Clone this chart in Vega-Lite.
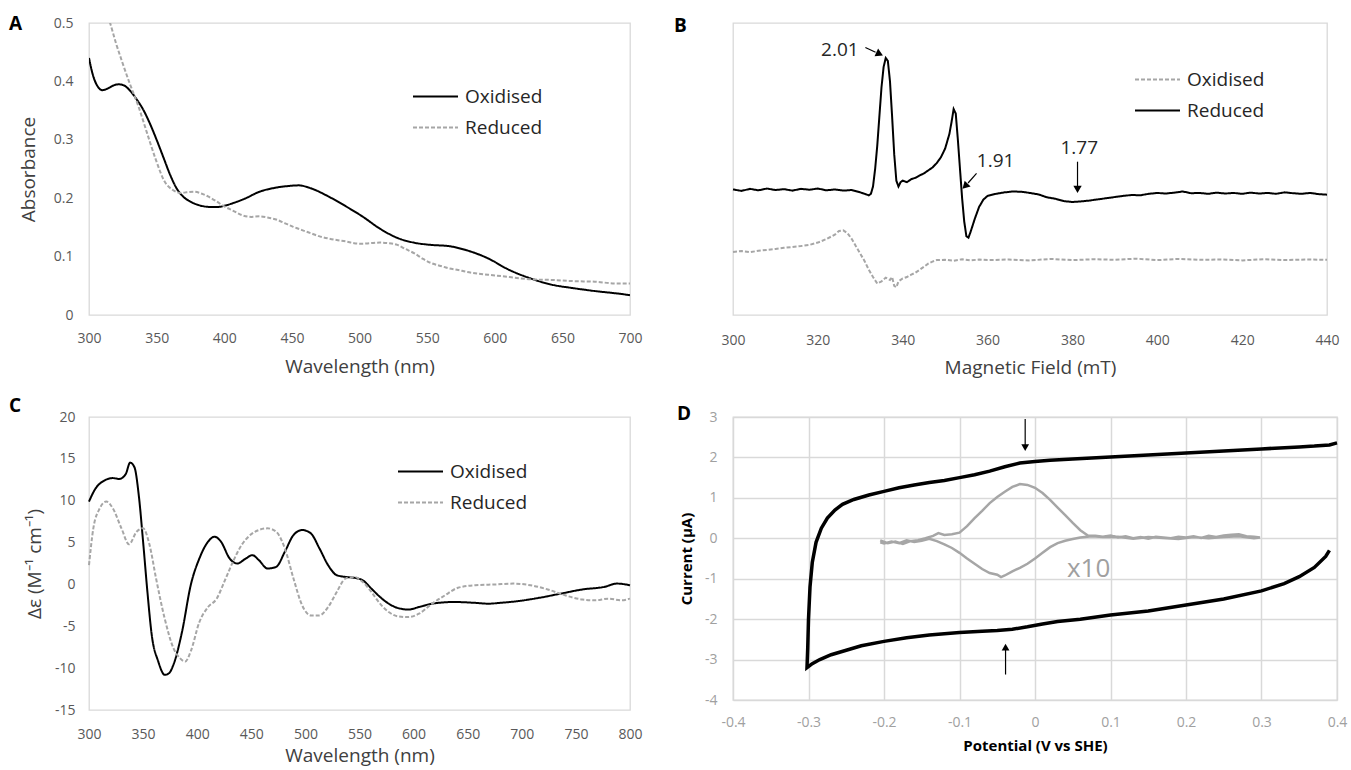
{
  "$schema": "https://vega.github.io/schema/vega-lite/v6.json",
  "padding": {"left": 8, "top": 14, "right": 0, "bottom": 0},
  "background": "white",
  "datasets": {
    "uv": [
      {"series":"Oxidised","wavelength":300,"absorbance":0.44},{"series":"Oxidised","wavelength":303,"absorbance":0.41},{"series":"Oxidised","wavelength":306,"absorbance":0.393},{"series":"Oxidised","wavelength":310,"absorbance":0.385},{"series":"Oxidised","wavelength":314,"absorbance":0.388},{"series":"Oxidised","wavelength":318,"absorbance":0.393},{"series":"Oxidised","wavelength":322,"absorbance":0.395},{"series":"Oxidised","wavelength":326,"absorbance":0.393},{"series":"Oxidised","wavelength":330,"absorbance":0.385},{"series":"Oxidised","wavelength":335,"absorbance":0.37},{"series":"Oxidised","wavelength":340,"absorbance":0.352},{"series":"Oxidised","wavelength":345,"absorbance":0.328},{"series":"Oxidised","wavelength":350,"absorbance":0.3},{"series":"Oxidised","wavelength":355,"absorbance":0.27},{"series":"Oxidised","wavelength":360,"absorbance":0.24},{"series":"Oxidised","wavelength":365,"absorbance":0.216},{"series":"Oxidised","wavelength":370,"absorbance":0.202},{"series":"Oxidised","wavelength":375,"absorbance":0.194},{"series":"Oxidised","wavelength":380,"absorbance":0.189},{"series":"Oxidised","wavelength":385,"absorbance":0.186},{"series":"Oxidised","wavelength":390,"absorbance":0.185},{"series":"Oxidised","wavelength":395,"absorbance":0.185},{"series":"Oxidised","wavelength":400,"absorbance":0.187},{"series":"Oxidised","wavelength":407,"absorbance":0.192},{"series":"Oxidised","wavelength":415,"absorbance":0.199},{"series":"Oxidised","wavelength":426,"absorbance":0.211},{"series":"Oxidised","wavelength":438,"absorbance":0.218},{"series":"Oxidised","wavelength":448,"absorbance":0.221},{"series":"Oxidised","wavelength":455,"absorbance":0.222},{"series":"Oxidised","wavelength":464,"absorbance":0.217},{"series":"Oxidised","wavelength":477,"absorbance":0.203},{"series":"Oxidised","wavelength":490,"absorbance":0.186},{"series":"Oxidised","wavelength":502,"absorbance":0.169},{"series":"Oxidised","wavelength":515,"absorbance":0.148},{"series":"Oxidised","wavelength":528,"absorbance":0.132},{"series":"Oxidised","wavelength":540,"absorbance":0.124},{"series":"Oxidised","wavelength":553,"absorbance":0.12},{"series":"Oxidised","wavelength":566,"absorbance":0.118},{"series":"Oxidised","wavelength":579,"absorbance":0.111},{"series":"Oxidised","wavelength":595,"absorbance":0.097},{"series":"Oxidised","wavelength":610,"absorbance":0.078},{"series":"Oxidised","wavelength":626,"absorbance":0.063},{"series":"Oxidised","wavelength":642,"absorbance":0.052},{"series":"Oxidised","wavelength":658,"absorbance":0.046},{"series":"Oxidised","wavelength":674,"absorbance":0.041},{"series":"Oxidised","wavelength":690,"absorbance":0.037},{"series":"Oxidised","wavelength":700,"absorbance":0.034},
      {"series":"Reduced","wavelength":300,"absorbance":0.62},{"series":"Reduced","wavelength":305,"absorbance":0.58},{"series":"Reduced","wavelength":310,"absorbance":0.54},{"series":"Reduced","wavelength":316,"absorbance":0.497},{"series":"Reduced","wavelength":320,"absorbance":0.465},{"series":"Reduced","wavelength":324,"absorbance":0.437},{"series":"Reduced","wavelength":330,"absorbance":0.397},{"series":"Reduced","wavelength":336.6,"absorbance":0.357},{"series":"Reduced","wavelength":343,"absorbance":0.311},{"series":"Reduced","wavelength":349.4,"absorbance":0.266},{"series":"Reduced","wavelength":355.8,"absorbance":0.229},{"series":"Reduced","wavelength":362,"absorbance":0.214},{"series":"Reduced","wavelength":368,"absorbance":0.209},{"series":"Reduced","wavelength":372,"absorbance":0.21},{"series":"Reduced","wavelength":378,"absorbance":0.211},{"series":"Reduced","wavelength":383,"absorbance":0.208},{"series":"Reduced","wavelength":388,"absorbance":0.203},{"series":"Reduced","wavelength":394,"absorbance":0.195},{"series":"Reduced","wavelength":400,"absorbance":0.186},{"series":"Reduced","wavelength":407,"absorbance":0.178},{"series":"Reduced","wavelength":413,"absorbance":0.171},{"series":"Reduced","wavelength":420,"absorbance":0.168},{"series":"Reduced","wavelength":426,"absorbance":0.169},{"series":"Reduced","wavelength":432,"absorbance":0.167},{"series":"Reduced","wavelength":439,"absorbance":0.163},{"series":"Reduced","wavelength":445,"absorbance":0.157},{"series":"Reduced","wavelength":451,"absorbance":0.151},{"series":"Reduced","wavelength":458,"absorbance":0.145},{"series":"Reduced","wavelength":464,"absorbance":0.14},{"series":"Reduced","wavelength":470,"absorbance":0.135},{"series":"Reduced","wavelength":477,"absorbance":0.131},{"series":"Reduced","wavelength":484,"absorbance":0.128},{"series":"Reduced","wavelength":490,"absorbance":0.126},{"series":"Reduced","wavelength":496,"absorbance":0.123},{"series":"Reduced","wavelength":502,"absorbance":0.122},{"series":"Reduced","wavelength":508,"absorbance":0.123},{"series":"Reduced","wavelength":515,"absorbance":0.124},{"series":"Reduced","wavelength":521,"absorbance":0.123},{"series":"Reduced","wavelength":528,"absorbance":0.12},{"series":"Reduced","wavelength":534,"absorbance":0.113},{"series":"Reduced","wavelength":541,"absorbance":0.105},{"series":"Reduced","wavelength":547,"absorbance":0.096},{"series":"Reduced","wavelength":553,"absorbance":0.089},{"series":"Reduced","wavelength":560,"absorbance":0.084},{"series":"Reduced","wavelength":566,"absorbance":0.08},{"series":"Reduced","wavelength":573,"absorbance":0.077},{"series":"Reduced","wavelength":579,"absorbance":0.074},{"series":"Reduced","wavelength":587,"absorbance":0.071},{"series":"Reduced","wavelength":595,"absorbance":0.069},{"series":"Reduced","wavelength":611,"absorbance":0.065},{"series":"Reduced","wavelength":627,"absorbance":0.061},{"series":"Reduced","wavelength":643,"absorbance":0.06},{"series":"Reduced","wavelength":658,"absorbance":0.058},{"series":"Reduced","wavelength":674,"absorbance":0.057},{"series":"Reduced","wavelength":690,"absorbance":0.054},{"series":"Reduced","wavelength":700,"absorbance":0.054}
    ],
    "epr": [
      {"series":"Reduced","field_mT":300,"signal":43.0},{"series":"Reduced","field_mT":302,"signal":42.5},{"series":"Reduced","field_mT":304,"signal":43.2},{"series":"Reduced","field_mT":306,"signal":42.7},{"series":"Reduced","field_mT":308,"signal":43.3},{"series":"Reduced","field_mT":310,"signal":42.8},{"series":"Reduced","field_mT":312,"signal":43.1},{"series":"Reduced","field_mT":314,"signal":42.6},{"series":"Reduced","field_mT":316,"signal":43.2},{"series":"Reduced","field_mT":318,"signal":42.9},{"series":"Reduced","field_mT":320,"signal":43.3},{"series":"Reduced","field_mT":322,"signal":42.7},{"series":"Reduced","field_mT":324,"signal":43.0},{"series":"Reduced","field_mT":326,"signal":42.6},{"series":"Reduced","field_mT":328,"signal":42.8},{"series":"Reduced","field_mT":330,"signal":42.0},{"series":"Reduced","field_mT":331,"signal":41.5},{"series":"Reduced","field_mT":332,"signal":41.0},{"series":"Reduced","field_mT":332.5,"signal":41.5},{"series":"Reduced","field_mT":333,"signal":44},{"series":"Reduced","field_mT":333.5,"signal":50},{"series":"Reduced","field_mT":334,"signal":58},{"series":"Reduced","field_mT":334.5,"signal":68},{"series":"Reduced","field_mT":335,"signal":78},{"series":"Reduced","field_mT":335.5,"signal":85},{"series":"Reduced","field_mT":336,"signal":88},{"series":"Reduced","field_mT":336.5,"signal":87},{"series":"Reduced","field_mT":337,"signal":80},{"series":"Reduced","field_mT":337.5,"signal":68},{"series":"Reduced","field_mT":338,"signal":55},{"series":"Reduced","field_mT":338.5,"signal":46},{"series":"Reduced","field_mT":339,"signal":44},{"series":"Reduced","field_mT":339.5,"signal":45.5},{"series":"Reduced","field_mT":340,"signal":46},{"series":"Reduced","field_mT":341,"signal":45.5},{"series":"Reduced","field_mT":342,"signal":46.5},{"series":"Reduced","field_mT":343,"signal":47},{"series":"Reduced","field_mT":344,"signal":47.8},{"series":"Reduced","field_mT":345,"signal":48.5},{"series":"Reduced","field_mT":346,"signal":49.5},{"series":"Reduced","field_mT":347,"signal":50.5},{"series":"Reduced","field_mT":348,"signal":52},{"series":"Reduced","field_mT":349,"signal":54},{"series":"Reduced","field_mT":350,"signal":57},{"series":"Reduced","field_mT":351,"signal":62},{"series":"Reduced","field_mT":351.5,"signal":66},{"series":"Reduced","field_mT":352,"signal":70.5},{"series":"Reduced","field_mT":352.5,"signal":69},{"series":"Reduced","field_mT":353,"signal":60},{"series":"Reduced","field_mT":353.5,"signal":50},{"series":"Reduced","field_mT":354,"signal":40},{"series":"Reduced","field_mT":354.5,"signal":32},{"series":"Reduced","field_mT":355,"signal":27},{"series":"Reduced","field_mT":355.5,"signal":26.5},{"series":"Reduced","field_mT":356,"signal":28.5},{"series":"Reduced","field_mT":357,"signal":33},{"series":"Reduced","field_mT":358,"signal":37},{"series":"Reduced","field_mT":359,"signal":39.5},{"series":"Reduced","field_mT":360,"signal":40.8},{"series":"Reduced","field_mT":362,"signal":41.5},{"series":"Reduced","field_mT":364,"signal":42},{"series":"Reduced","field_mT":366,"signal":42.3},{"series":"Reduced","field_mT":368,"signal":42.2},{"series":"Reduced","field_mT":370,"signal":41.8},{"series":"Reduced","field_mT":372,"signal":41.3},{"series":"Reduced","field_mT":374,"signal":40.3},{"series":"Reduced","field_mT":376,"signal":39.8},{"series":"Reduced","field_mT":378,"signal":39.0},{"series":"Reduced","field_mT":380,"signal":38.7},{"series":"Reduced","field_mT":382,"signal":38.9},{"series":"Reduced","field_mT":384,"signal":39.2},{"series":"Reduced","field_mT":386,"signal":39.6},{"series":"Reduced","field_mT":388,"signal":40.0},{"series":"Reduced","field_mT":390,"signal":40.4},{"series":"Reduced","field_mT":392,"signal":40.8},{"series":"Reduced","field_mT":394,"signal":41.1},{"series":"Reduced","field_mT":396,"signal":41.0},{"series":"Reduced","field_mT":398,"signal":41.5},{"series":"Reduced","field_mT":400,"signal":41.8},{"series":"Reduced","field_mT":402,"signal":41.6},{"series":"Reduced","field_mT":404,"signal":41.9},{"series":"Reduced","field_mT":406,"signal":42.3},{"series":"Reduced","field_mT":408,"signal":41.7},{"series":"Reduced","field_mT":410,"signal":41.8},{"series":"Reduced","field_mT":412,"signal":41.5},{"series":"Reduced","field_mT":414,"signal":41.9},{"series":"Reduced","field_mT":416,"signal":41.6},{"series":"Reduced","field_mT":418,"signal":41.8},{"series":"Reduced","field_mT":420,"signal":41.5},{"series":"Reduced","field_mT":422,"signal":41.9},{"series":"Reduced","field_mT":424,"signal":41.6},{"series":"Reduced","field_mT":426,"signal":41.8},{"series":"Reduced","field_mT":428,"signal":41.5},{"series":"Reduced","field_mT":430,"signal":42.0},{"series":"Reduced","field_mT":432,"signal":41.7},{"series":"Reduced","field_mT":434,"signal":41.5},{"series":"Reduced","field_mT":436,"signal":41.8},{"series":"Reduced","field_mT":438,"signal":41.4},{"series":"Reduced","field_mT":440,"signal":41.2},
      {"series":"Oxidised","field_mT":300,"signal":21.6},{"series":"Oxidised","field_mT":302,"signal":21.9},{"series":"Oxidised","field_mT":304,"signal":21.5},{"series":"Oxidised","field_mT":306,"signal":22.0},{"series":"Oxidised","field_mT":308,"signal":22.3},{"series":"Oxidised","field_mT":310,"signal":22.6},{"series":"Oxidised","field_mT":312,"signal":23.0},{"series":"Oxidised","field_mT":314,"signal":23.3},{"series":"Oxidised","field_mT":316,"signal":23.6},{"series":"Oxidised","field_mT":318,"signal":24.0},{"series":"Oxidised","field_mT":320,"signal":24.8},{"series":"Oxidised","field_mT":322,"signal":26.0},{"series":"Oxidised","field_mT":324,"signal":27.5},{"series":"Oxidised","field_mT":325,"signal":28.8},{"series":"Oxidised","field_mT":326,"signal":29.0},{"series":"Oxidised","field_mT":327,"signal":28.0},{"series":"Oxidised","field_mT":328,"signal":26.0},{"series":"Oxidised","field_mT":329,"signal":23.5},{"series":"Oxidised","field_mT":330,"signal":21.0},{"series":"Oxidised","field_mT":331,"signal":18.5},{"series":"Oxidised","field_mT":332,"signal":15.5},{"series":"Oxidised","field_mT":333,"signal":13.0},{"series":"Oxidised","field_mT":334,"signal":10.8},{"series":"Oxidised","field_mT":335,"signal":11.5},{"series":"Oxidised","field_mT":336,"signal":12.8},{"series":"Oxidised","field_mT":337,"signal":12.0},{"series":"Oxidised","field_mT":337.5,"signal":13.0},{"series":"Oxidised","field_mT":338,"signal":10.0},{"series":"Oxidised","field_mT":338.5,"signal":9.5},{"series":"Oxidised","field_mT":339,"signal":11.5},{"series":"Oxidised","field_mT":340,"signal":12.5},{"series":"Oxidised","field_mT":341,"signal":13.0},{"series":"Oxidised","field_mT":342,"signal":13.8},{"series":"Oxidised","field_mT":343,"signal":14.5},{"series":"Oxidised","field_mT":344,"signal":15.5},{"series":"Oxidised","field_mT":345,"signal":16.5},{"series":"Oxidised","field_mT":346,"signal":17.6},{"series":"Oxidised","field_mT":347,"signal":18.3},{"series":"Oxidised","field_mT":348,"signal":18.8},{"series":"Oxidised","field_mT":350,"signal":18.9},{"series":"Oxidised","field_mT":352,"signal":18.6},{"series":"Oxidised","field_mT":354,"signal":19.1},{"series":"Oxidised","field_mT":356,"signal":18.7},{"series":"Oxidised","field_mT":358,"signal":19.0},{"series":"Oxidised","field_mT":360,"signal":18.8},{"series":"Oxidised","field_mT":365,"signal":19.0},{"series":"Oxidised","field_mT":370,"signal":18.7},{"series":"Oxidised","field_mT":375,"signal":19.2},{"series":"Oxidised","field_mT":380,"signal":18.8},{"series":"Oxidised","field_mT":385,"signal":19.1},{"series":"Oxidised","field_mT":390,"signal":18.9},{"series":"Oxidised","field_mT":395,"signal":19.3},{"series":"Oxidised","field_mT":400,"signal":18.8},{"series":"Oxidised","field_mT":405,"signal":19.2},{"series":"Oxidised","field_mT":410,"signal":18.9},{"series":"Oxidised","field_mT":415,"signal":19.0},{"series":"Oxidised","field_mT":420,"signal":18.7},{"series":"Oxidised","field_mT":425,"signal":19.1},{"series":"Oxidised","field_mT":430,"signal":18.8},{"series":"Oxidised","field_mT":435,"signal":19.0},{"series":"Oxidised","field_mT":440,"signal":18.9}
    ],
    "epr_labels": [
      {"label":"2.01","field_mT":325.2,"signal":90.9},
      {"label":"1.91","field_mT":361.9,"signal":52.6},
      {"label":"1.77","field_mT":381.6,"signal":57.3}
    ],
    "epr_arrows": [
      {"field_mT":331.2,"signal":91.6,"field_mT2":333.6,"signal2":90.0},
      {"field_mT":357.4,"signal":48.5,"field_mT2":355.4,"signal2":45.2},
      {"field_mT":381.2,"signal":52.5,"field_mT2":381.2,"signal2":44.0}
    ],
    "epr_heads": [
      {"field_mT":334.3,"signal":89.6,"angle":115},
      {"field_mT":354.9,"signal":44.4,"angle":225},
      {"field_mT":381.2,"signal":43.4,"angle":180}
    ],
    "cd": [
      {"series":"Oxidised","wavelength":300,"delta_eps":9.9},{"series":"Oxidised","wavelength":306,"delta_eps":11.45},{"series":"Oxidised","wavelength":314,"delta_eps":12.4},{"series":"Oxidised","wavelength":322,"delta_eps":12.7},{"series":"Oxidised","wavelength":328,"delta_eps":12.6},{"series":"Oxidised","wavelength":334,"delta_eps":13.2},{"series":"Oxidised","wavelength":338,"delta_eps":14.55},{"series":"Oxidised","wavelength":342,"delta_eps":14.0},{"series":"Oxidised","wavelength":346,"delta_eps":10.65},{"series":"Oxidised","wavelength":350,"delta_eps":5.1},{"series":"Oxidised","wavelength":354,"delta_eps":-0.9},{"series":"Oxidised","wavelength":358,"delta_eps":-6.05},{"series":"Oxidised","wavelength":364,"delta_eps":-9.2},{"series":"Oxidised","wavelength":370,"delta_eps":-10.8},{"series":"Oxidised","wavelength":374,"delta_eps":-10.6},{"series":"Oxidised","wavelength":378,"delta_eps":-9.6},{"series":"Oxidised","wavelength":386,"delta_eps":-5.65},{"series":"Oxidised","wavelength":394,"delta_eps":-0.1},{"series":"Oxidised","wavelength":402,"delta_eps":3.1},{"series":"Oxidised","wavelength":410,"delta_eps":5.1},{"series":"Oxidised","wavelength":416,"delta_eps":5.7},{"series":"Oxidised","wavelength":422,"delta_eps":5.1},{"series":"Oxidised","wavelength":430,"delta_eps":3.1},{"series":"Oxidised","wavelength":437,"delta_eps":2.5},{"series":"Oxidised","wavelength":445,"delta_eps":3.1},{"series":"Oxidised","wavelength":451,"delta_eps":3.5},{"series":"Oxidised","wavelength":457,"delta_eps":2.9},{"series":"Oxidised","wavelength":465,"delta_eps":1.9},{"series":"Oxidised","wavelength":473,"delta_eps":2.1},{"series":"Oxidised","wavelength":481,"delta_eps":3.9},{"series":"Oxidised","wavelength":489,"delta_eps":5.9},{"series":"Oxidised","wavelength":497,"delta_eps":6.5},{"series":"Oxidised","wavelength":505,"delta_eps":6.1},{"series":"Oxidised","wavelength":513,"delta_eps":4.3},{"series":"Oxidised","wavelength":521,"delta_eps":2.3},{"series":"Oxidised","wavelength":529,"delta_eps":1.1},{"series":"Oxidised","wavelength":537,"delta_eps":0.9},{"series":"Oxidised","wavelength":545,"delta_eps":0.8},{"series":"Oxidised","wavelength":553,"delta_eps":0.5},{"series":"Oxidised","wavelength":561,"delta_eps":-0.5},{"series":"Oxidised","wavelength":569,"delta_eps":-1.5},{"series":"Oxidised","wavelength":577,"delta_eps":-2.3},{"series":"Oxidised","wavelength":585,"delta_eps":-2.8},{"series":"Oxidised","wavelength":595,"delta_eps":-3.0},{"series":"Oxidised","wavelength":605,"delta_eps":-2.7},{"series":"Oxidised","wavelength":617,"delta_eps":-2.3},{"series":"Oxidised","wavelength":637,"delta_eps":-2.1},{"series":"Oxidised","wavelength":657,"delta_eps":-2.2},{"series":"Oxidised","wavelength":669,"delta_eps":-2.3},{"series":"Oxidised","wavelength":680,"delta_eps":-2.2},{"series":"Oxidised","wavelength":696,"delta_eps":-2.0},{"series":"Oxidised","wavelength":716,"delta_eps":-1.6},{"series":"Oxidised","wavelength":736,"delta_eps":-1.1},{"series":"Oxidised","wavelength":756,"delta_eps":-0.6},{"series":"Oxidised","wavelength":776,"delta_eps":-0.3},{"series":"Oxidised","wavelength":788,"delta_eps":0.1},{"series":"Oxidised","wavelength":800,"delta_eps":-0.1},
      {"series":"Reduced","wavelength":300,"delta_eps":2.3},{"series":"Reduced","wavelength":304,"delta_eps":6.7},{"series":"Reduced","wavelength":310,"delta_eps":9.1},{"series":"Reduced","wavelength":316,"delta_eps":9.9},{"series":"Reduced","wavelength":322,"delta_eps":9.1},{"series":"Reduced","wavelength":330,"delta_eps":6.7},{"series":"Reduced","wavelength":337,"delta_eps":4.8},{"series":"Reduced","wavelength":344,"delta_eps":6.3},{"series":"Reduced","wavelength":350,"delta_eps":6.7},{"series":"Reduced","wavelength":356,"delta_eps":4.7},{"series":"Reduced","wavelength":362,"delta_eps":0.7},{"series":"Reduced","wavelength":370,"delta_eps":-4.1},{"series":"Reduced","wavelength":378,"delta_eps":-7.6},{"series":"Reduced","wavelength":384,"delta_eps":-8.8},{"series":"Reduced","wavelength":389,"delta_eps":-9.2},{"series":"Reduced","wavelength":394,"delta_eps":-8.0},{"series":"Reduced","wavelength":402,"delta_eps":-4.5},{"series":"Reduced","wavelength":410,"delta_eps":-2.7},{"series":"Reduced","wavelength":418,"delta_eps":-1.7},{"series":"Reduced","wavelength":425,"delta_eps":0.3},{"series":"Reduced","wavelength":433,"delta_eps":2.7},{"series":"Reduced","wavelength":441,"delta_eps":4.7},{"series":"Reduced","wavelength":449,"delta_eps":5.9},{"series":"Reduced","wavelength":457,"delta_eps":6.5},{"series":"Reduced","wavelength":465,"delta_eps":6.7},{"series":"Reduced","wavelength":473,"delta_eps":6.3},{"series":"Reduced","wavelength":481,"delta_eps":4.3},{"series":"Reduced","wavelength":489,"delta_eps":0.7},{"series":"Reduced","wavelength":497,"delta_eps":-2.5},{"series":"Reduced","wavelength":505,"delta_eps":-3.7},{"series":"Reduced","wavelength":513,"delta_eps":-3.7},{"series":"Reduced","wavelength":521,"delta_eps":-2.7},{"series":"Reduced","wavelength":529,"delta_eps":-0.9},{"series":"Reduced","wavelength":537,"delta_eps":0.7},{"series":"Reduced","wavelength":545,"delta_eps":0.9},{"series":"Reduced","wavelength":553,"delta_eps":0.3},{"series":"Reduced","wavelength":561,"delta_eps":-0.9},{"series":"Reduced","wavelength":569,"delta_eps":-2.3},{"series":"Reduced","wavelength":577,"delta_eps":-3.3},{"series":"Reduced","wavelength":585,"delta_eps":-3.8},{"series":"Reduced","wavelength":595,"delta_eps":-3.9},{"series":"Reduced","wavelength":605,"delta_eps":-3.5},{"series":"Reduced","wavelength":617,"delta_eps":-2.3},{"series":"Reduced","wavelength":629,"delta_eps":-1.3},{"series":"Reduced","wavelength":641,"delta_eps":-0.4},{"series":"Reduced","wavelength":657,"delta_eps":-0.1},{"series":"Reduced","wavelength":676,"delta_eps":0.0},{"series":"Reduced","wavelength":692,"delta_eps":0.1},{"series":"Reduced","wavelength":708,"delta_eps":-0.1},{"series":"Reduced","wavelength":724,"delta_eps":-0.6},{"series":"Reduced","wavelength":740,"delta_eps":-1.3},{"series":"Reduced","wavelength":756,"delta_eps":-1.8},{"series":"Reduced","wavelength":768,"delta_eps":-1.9},{"series":"Reduced","wavelength":780,"delta_eps":-1.7},{"series":"Reduced","wavelength":792,"delta_eps":-1.9},{"series":"Reduced","wavelength":800,"delta_eps":-1.7}
    ],
    "cv_black": [
      {"step":1,"potential":0.4,"current":2.36},{"step":2,"potential":0.39,"current":2.31},{"step":3,"potential":0.37,"current":2.28},{"step":4,"potential":0.35,"current":2.26},{"step":5,"potential":0.3,"current":2.21},{"step":6,"potential":0.25,"current":2.16},{"step":7,"potential":0.2,"current":2.11},{"step":8,"potential":0.15,"current":2.06},{"step":9,"potential":0.1,"current":2.01},{"step":10,"potential":0.05,"current":1.96},{"step":11,"potential":0.02,"current":1.93},{"step":12,"potential":0.0,"current":1.9},{"step":13,"potential":-0.02,"current":1.86},{"step":14,"potential":-0.04,"current":1.77},{"step":15,"potential":-0.06,"current":1.66},{"step":16,"potential":-0.08,"current":1.57},{"step":17,"potential":-0.1,"current":1.5},{"step":18,"potential":-0.12,"current":1.43},{"step":19,"potential":-0.14,"current":1.38},{"step":20,"potential":-0.16,"current":1.32},{"step":21,"potential":-0.18,"current":1.25},{"step":22,"potential":-0.2,"current":1.16},{"step":23,"potential":-0.22,"current":1.07},{"step":24,"potential":-0.24,"current":0.96},{"step":25,"potential":-0.255,"current":0.84},{"step":26,"potential":-0.265,"current":0.7},{"step":27,"potential":-0.275,"current":0.5},{"step":28,"potential":-0.283,"current":0.25},{"step":29,"potential":-0.29,"current":-0.1},{"step":30,"potential":-0.295,"current":-0.6},{"step":31,"potential":-0.298,"current":-1.2},{"step":32,"potential":-0.3,"current":-2.0},{"step":33,"potential":-0.301,"current":-2.7},{"step":34,"potential":-0.302,"current":-3.2},{"step":35,"potential":-0.295,"current":-3.1},{"step":36,"potential":-0.285,"current":-3.0},{"step":37,"potential":-0.27,"current":-2.88},{"step":38,"potential":-0.25,"current":-2.77},{"step":39,"potential":-0.23,"current":-2.66},{"step":40,"potential":-0.2,"current":-2.55},{"step":41,"potential":-0.17,"current":-2.46},{"step":42,"potential":-0.14,"current":-2.39},{"step":43,"potential":-0.1,"current":-2.33},{"step":44,"potential":-0.07,"current":-2.3},{"step":45,"potential":-0.05,"current":-2.28},{"step":46,"potential":-0.03,"current":-2.25},{"step":47,"potential":-0.01,"current":-2.19},{"step":48,"potential":0.01,"current":-2.12},{"step":49,"potential":0.03,"current":-2.06},{"step":50,"potential":0.06,"current":-2.0},{"step":51,"potential":0.1,"current":-1.9},{"step":52,"potential":0.15,"current":-1.8},{"step":53,"potential":0.2,"current":-1.65},{"step":54,"potential":0.25,"current":-1.5},{"step":55,"potential":0.3,"current":-1.3},{"step":56,"potential":0.33,"current":-1.12},{"step":57,"potential":0.35,"current":-0.95},{"step":58,"potential":0.37,"current":-0.72},{"step":59,"potential":0.385,"current":-0.45},{"step":60,"potential":0.39,"current":-0.3}
    ],
    "cv_gray": [
      {"step":1,"potential":-0.205,"current":-0.05},{"step":2,"potential":-0.195,"current":-0.12},{"step":3,"potential":-0.185,"current":-0.08},{"step":4,"potential":-0.175,"current":-0.14},{"step":5,"potential":-0.165,"current":-0.07},{"step":6,"potential":-0.155,"current":-0.05},{"step":7,"potential":-0.145,"current":0.0},{"step":8,"potential":-0.135,"current":0.06},{"step":9,"potential":-0.128,"current":0.13},{"step":10,"potential":-0.12,"current":0.08},{"step":11,"potential":-0.11,"current":0.1},{"step":12,"potential":-0.1,"current":0.14},{"step":13,"potential":-0.09,"current":0.3},{"step":14,"potential":-0.08,"current":0.5},{"step":15,"potential":-0.07,"current":0.68},{"step":16,"potential":-0.06,"current":0.87},{"step":17,"potential":-0.05,"current":1.02},{"step":18,"potential":-0.04,"current":1.15},{"step":19,"potential":-0.03,"current":1.27},{"step":20,"potential":-0.02,"current":1.34},{"step":21,"potential":-0.01,"current":1.32},{"step":22,"potential":0.0,"current":1.25},{"step":23,"potential":0.01,"current":1.12},{"step":24,"potential":0.02,"current":0.95},{"step":25,"potential":0.03,"current":0.76},{"step":26,"potential":0.04,"current":0.57},{"step":27,"potential":0.05,"current":0.38},{"step":28,"potential":0.06,"current":0.2},{"step":29,"potential":0.07,"current":0.07},{"step":30,"potential":0.08,"current":0.06},{"step":31,"potential":0.09,"current":0.04},{"step":32,"potential":0.1,"current":0.07},{"step":33,"potential":0.11,"current":0.02},{"step":34,"potential":0.12,"current":0.05},{"step":35,"potential":0.13,"current":0.0},{"step":36,"potential":0.14,"current":0.03},{"step":37,"potential":0.15,"current":-0.01},{"step":38,"potential":0.16,"current":0.04},{"step":39,"potential":0.17,"current":0.02},{"step":40,"potential":0.18,"current":0.0},{"step":41,"potential":0.19,"current":0.04},{"step":42,"potential":0.2,"current":0.02},{"step":43,"potential":0.21,"current":0.05},{"step":44,"potential":0.22,"current":0.01},{"step":45,"potential":0.23,"current":0.06},{"step":46,"potential":0.24,"current":0.03},{"step":47,"potential":0.25,"current":0.07},{"step":48,"potential":0.26,"current":0.09},{"step":49,"potential":0.27,"current":0.1},{"step":50,"potential":0.28,"current":0.05},{"step":51,"potential":0.29,"current":0.04},{"step":52,"potential":0.298,"current":0.02},{"step":53,"potential":0.29,"current":0.0},{"step":54,"potential":0.27,"current":0.05},{"step":55,"potential":0.25,"current":0.03},{"step":56,"potential":0.23,"current":0.0},{"step":57,"potential":0.21,"current":0.03},{"step":58,"potential":0.19,"current":-0.02},{"step":59,"potential":0.17,"current":0.01},{"step":60,"potential":0.15,"current":0.03},{"step":61,"potential":0.13,"current":-0.01},{"step":62,"potential":0.11,"current":0.04},{"step":63,"potential":0.09,"current":0.03},{"step":64,"potential":0.075,"current":0.05},{"step":65,"potential":0.06,"current":0.02},{"step":66,"potential":0.05,"current":-0.02},{"step":67,"potential":0.04,"current":-0.06},{"step":68,"potential":0.03,"current":-0.12},{"step":69,"potential":0.02,"current":-0.22},{"step":70,"potential":0.01,"current":-0.36},{"step":71,"potential":0.0,"current":-0.5},{"step":72,"potential":-0.01,"current":-0.63},{"step":73,"potential":-0.02,"current":-0.73},{"step":74,"potential":-0.03,"current":-0.82},{"step":75,"potential":-0.04,"current":-0.92},{"step":76,"potential":-0.045,"current":-0.96},{"step":77,"potential":-0.05,"current":-0.9},{"step":78,"potential":-0.06,"current":-0.86},{"step":79,"potential":-0.07,"current":-0.76},{"step":80,"potential":-0.08,"current":-0.63},{"step":81,"potential":-0.09,"current":-0.5},{"step":82,"potential":-0.1,"current":-0.36},{"step":83,"potential":-0.11,"current":-0.24},{"step":84,"potential":-0.12,"current":-0.15},{"step":85,"potential":-0.13,"current":-0.07},{"step":86,"potential":-0.14,"current":-0.01},{"step":87,"potential":-0.15,"current":-0.06},{"step":88,"potential":-0.16,"current":-0.09},{"step":89,"potential":-0.17,"current":-0.05},{"step":90,"potential":-0.18,"current":-0.12},{"step":91,"potential":-0.19,"current":-0.08},{"step":92,"potential":-0.2,"current":-0.13},{"step":93,"potential":-0.205,"current":-0.1}
    ],
    "cv_arrows": [
      {"potential":-0.013,"current":2.95,"current2":2.3},
      {"potential":-0.039,"current":-3.37,"current2":-2.72}
    ],
    "cv_heads": [
      {"potential":-0.013,"current":2.27,"angle":180},
      {"potential":-0.039,"current":-2.72,"angle":0}
    ],
    "cv_label": [
      {"potential":0.071,"current":-0.75,"label":"x10"}
    ]
  },
  "columns": 2,
  "spacing": {"row": 102, "column": 103},
  "bounds": "flush",
  "resolve": {"scale": {"color": "independent", "strokeDash": "independent"}, "legend": {"color": "independent", "strokeDash": "independent"}},
  "concat": [
    {
      "width": 541, "height": 292,
      "title": {"text": "A", "dx": -80, "dy": 22},
      "data": {"name": "uv"},
      "mark": {"type": "line", "strokeWidth": 2, "clip": true, "interpolate": "monotone"},
      "encoding": {
        "x": {"field": "wavelength", "type": "quantitative", "scale": {"domain": [300, 700], "nice": false, "zero": false}, "axis": {"values": [300,350,400,450,500,550,600,650,700], "title": "Wavelength (nm)", "labelPadding": 16, "titlePadding": 12}},
        "y": {"field": "absorbance", "type": "quantitative", "scale": {"domain": [0, 0.5], "nice": false}, "axis": {"values": [0,0.1,0.2,0.3,0.4,0.5], "labelExpr": "toString(datum.value)", "title": "Absorbance", "labelPadding": 16, "titlePadding": 15}},
        "color": {"field": "series", "type": "nominal", "scale": {"domain": ["Oxidised","Reduced"], "range": ["#000000","#a6a6a6"]}, "legend": {"title": null, "orient": "none", "legendX": 324, "legendY": 64}},
        "strokeDash": {"field": "series", "type": "nominal", "scale": {"domain": ["Oxidised","Reduced"], "range": [[1,0],[4,2]]}, "legend": {"title": null, "orient": "none", "legendX": 324, "legendY": 64}}
      }
    },
    {
      "width": 594, "height": 292,
      "title": {"text": "B", "dx": -59, "dy": 17},
      "layer": [
        {
          "data": {"name": "epr"},
          "mark": {"type": "line", "strokeWidth": 2},
          "encoding": {
            "x": {"field": "field_mT", "type": "quantitative", "scale": {"domain": [300, 440], "nice": false, "zero": false}, "axis": {"values": [300,320,340,360,380,400,420,440], "title": "Magnetic Field (mT)", "labelPadding": 18, "titlePadding": 11}},
            "y": {"field": "signal", "type": "quantitative", "scale": {"domain": [0, 100], "nice": false}, "axis": null},
            "color": {"field": "series", "type": "nominal", "scale": {"domain": ["Oxidised","Reduced"], "range": ["#a6a6a6","#000000"]}, "legend": {"title": null, "orient": "none", "legendX": 402, "legendY": 47}},
            "strokeDash": {"field": "series", "type": "nominal", "scale": {"domain": ["Oxidised","Reduced"], "range": [[4,2],[1,0]]}, "legend": {"title": null, "orient": "none", "legendX": 402, "legendY": 47}}
          }
        },
        {
          "data": {"name": "epr_arrows"},
          "mark": {"type": "rule", "color": "#000000", "strokeWidth": 1.2},
          "encoding": {
            "x": {"field": "field_mT", "type": "quantitative"},
            "y": {"field": "signal", "type": "quantitative"},
            "x2": {"field": "field_mT2"},
            "y2": {"field": "signal2"}
          }
        },
        {
          "data": {"name": "epr_heads"},
          "mark": {"type": "point", "shape": "triangle", "filled": true, "color": "#000000", "size": 70, "opacity": 1},
          "encoding": {
            "x": {"field": "field_mT", "type": "quantitative"},
            "y": {"field": "signal", "type": "quantitative"},
            "angle": {"field": "angle", "type": "quantitative", "scale": null}
          }
        },
        {
          "data": {"name": "epr_labels"},
          "mark": {"type": "text", "fontSize": 19, "color": "#262626", "font": "Open Sans"},
          "encoding": {
            "x": {"field": "field_mT", "type": "quantitative"},
            "y": {"field": "signal", "type": "quantitative"},
            "text": {"field": "label"}
          }
        }
      ]
    },
    {
      "width": 541, "height": 293,
      "title": {"text": "C", "dx": -80, "dy": 10},
      "layer": [
        {
          "mark": {"type": "rule", "color": "#d9d9d9", "strokeWidth": 1.5},
          "encoding": {"y": {"datum": 0, "type": "quantitative"}}
        },
        {
          "data": {"name": "cd"},
          "mark": {"type": "line", "strokeWidth": 2, "interpolate": "monotone"},
          "encoding": {
            "x": {"field": "wavelength", "type": "quantitative", "scale": {"domain": [300, 800], "nice": false, "zero": false}, "axis": {"values": [300,350,400,450,500,550,600,650,700,750,800], "title": "Wavelength (nm)", "labelPadding": 17, "titlePadding": 5}},
            "y": {"field": "delta_eps", "type": "quantitative", "scale": {"domain": [-15, 20], "nice": false}, "axis": {"values": [-15,-10,-5,0,5,10,15,20], "labelExpr": "toString(datum.value)", "title": "Δε (M⁻¹ cm⁻¹)"}},
            "color": {"field": "series", "type": "nominal", "scale": {"domain": ["Oxidised","Reduced"], "range": ["#000000","#a6a6a6"]}, "legend": {"title": null, "orient": "none", "legendX": 309, "legendY": 45}},
            "strokeDash": {"field": "series", "type": "nominal", "scale": {"domain": ["Oxidised","Reduced"], "range": [[1,0],[4,2]]}, "legend": {"title": null, "orient": "none", "legendX": 309, "legendY": 45}}
          }
        }
      ]
    },
    {
      "width": 604, "height": 283,
      "title": {"text": "D", "dx": -56, "dy": 18},
      "layer": [
        {
          "mark": {"type": "rule", "color": "#bfbfbf", "strokeWidth": 1.5},
          "encoding": {"x": {"datum": 0, "type": "quantitative"}}
        },
        {
          "data": {"name": "cv_black"},
          "mark": {"type": "line", "color": "#000000", "strokeWidth": 3.5},
          "encoding": {
            "x": {"field": "potential", "type": "quantitative", "scale": {"domain": [-0.4, 0.4], "nice": false, "zero": false}, "axis": {"values": [-0.4,-0.3,-0.2,-0.1,0,0.1,0.2,0.3,0.4], "labelExpr": "toString(datum.value)", "grid": true, "gridColor": "#d9d9d9", "gridWidth": 1.5, "labelColor": "#a0a0a0", "labelPadding": 15, "title": "Potential (V vs SHE)", "titleFontWeight": "bold", "titleFontSize": 15, "titleColor": "#000000", "titlePadding": 9}},
            "y": {"field": "current", "type": "quantitative", "scale": {"domain": [-4, 3], "nice": false}, "axis": {"values": [-4,-3,-2,-1,0,1,2,3], "labelExpr": "toString(datum.value)", "grid": true, "gridColor": "#d9d9d9", "gridWidth": 1.5, "labelColor": "#a0a0a0", "labelPadding": 16, "title": "Current (μA)", "titleFontWeight": "bold", "titleFontSize": 15, "titleColor": "#000000", "titlePadding": 10}},
            "order": {"field": "step", "type": "quantitative"}
          }
        },
        {
          "data": {"name": "cv_gray"},
          "mark": {"type": "line", "color": "#a6a6a6", "strokeWidth": 2.5},
          "encoding": {
            "x": {"field": "potential", "type": "quantitative"},
            "y": {"field": "current", "type": "quantitative"},
            "order": {"field": "step", "type": "quantitative"}
          }
        },
        {
          "data": {"name": "cv_label"},
          "mark": {"type": "text", "fontSize": 26, "color": "#a0a0a0", "font": "Open Sans"},
          "encoding": {
            "x": {"field": "potential", "type": "quantitative"},
            "y": {"field": "current", "type": "quantitative"},
            "text": {"field": "label"}
          }
        },
        {
          "data": {"name": "cv_arrows"},
          "mark": {"type": "rule", "color": "#000000", "strokeWidth": 1.2},
          "encoding": {
            "x": {"field": "potential", "type": "quantitative"},
            "y": {"field": "current", "type": "quantitative"},
            "y2": {"field": "current2"}
          }
        },
        {
          "data": {"name": "cv_heads"},
          "mark": {"type": "point", "shape": "triangle", "filled": true, "color": "#000000", "size": 60, "opacity": 1},
          "encoding": {
            "x": {"field": "potential", "type": "quantitative"},
            "y": {"field": "current", "type": "quantitative"},
            "angle": {"field": "angle", "type": "quantitative", "scale": null}
          }
        }
      ]
    }
  ],
  "config": {
    "font": "Open Sans",
    "view": {"stroke": "#d9d9d9", "strokeWidth": 1.3},
    "axis": {"domain": false, "ticks": false, "grid": false, "labelFlush": false, "labelColor": "#595959", "labelFont": "Open Sans", "labelFontSize": 14, "labelPadding": 14, "titleColor": "#404040", "titleFont": "Open Sans", "titleFontSize": 19, "titleFontWeight": "normal", "titlePadding": 10},
    "legend": {"symbolType": "M-5,0H5", "symbolSize": 81, "symbolOffset": 13, "symbolStrokeWidth": 2, "labelFont": "Open Sans", "labelFontSize": 19, "labelColor": "#262626", "rowPadding": 11, "labelOffset": 20},
    "title": {"fontSize": 19, "fontWeight": "bold", "anchor": "start", "frame": "group", "offset": 0, "baseline": "middle", "color": "#000000", "font": "Open Sans"}
  }
}
